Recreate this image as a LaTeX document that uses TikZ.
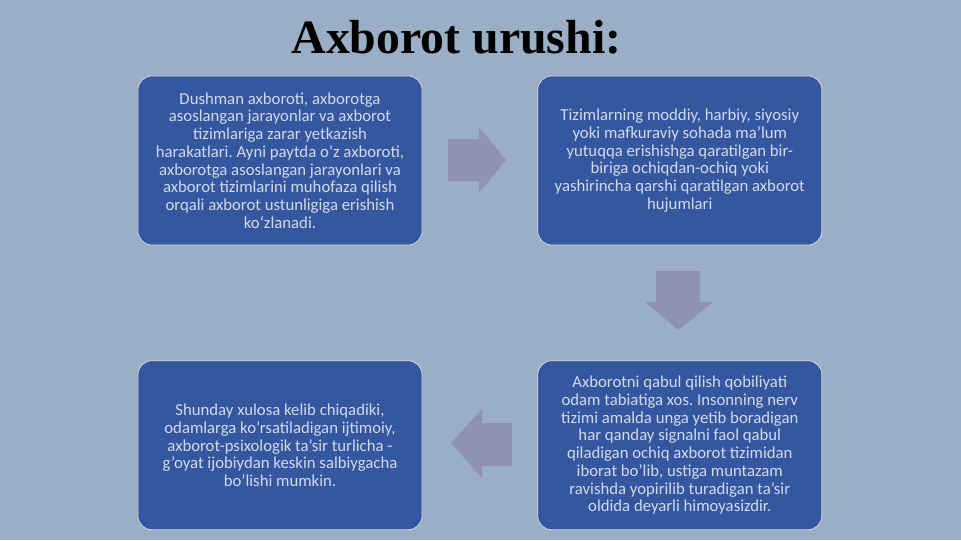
\documentclass[tikz,border=0pt]{standalone}
\usepackage{fontspec}
\setmainfont{Carlito}
\newfontfamily\titlefont{Liberation Serif}
\usepackage{xcolor}
\usepackage{tikz}
\usetikzlibrary{positioning}
\frenchspacing

\definecolor{slidebg}{HTML}{9AAEC5}
\definecolor{boxfill}{HTML}{3457A0}
\definecolor{boxtext}{HTML}{D2DAEA}
\definecolor{flowarrow}{HTML}{8E93B3}

\tikzset{
  infobox/.style={rectangle, rounded corners=0.35cm, fill=boxfill, draw=slidebg!40!white, line width=0.5pt,
    minimum width=7.1cm, minimum height=4.225cm, text=boxtext, align=center, inner sep=0pt,
    font=\fontsize{11.9}{12.6}\selectfont},
  flow/.style={fill=flowarrow}
}

\begin{document}
\begin{tikzpicture}[x=0.025cm, y=-0.025cm, node distance=2.875cm]
% Slide background
\fill[slidebg] (0,0) rectangle (961,540);

% Title
\node[anchor=base, font=\titlefont\bfseries\fontsize{34}{37}\selectfont] (title) at (456.5,53) {Axborot urushi:};

% Four text blocks
\node[infobox] (define) at (280,160.5) {Dushman axboroti, axborotga\\
asoslangan jarayonlar va axborot\\
tizimlariga zarar yetkazish\\
harakatlari. Ayni paytda o‘z axboroti,\\
axborotga asoslangan jarayonlari va\\
axborot tizimlarini muhofaza qilish\\
orqali axborot ustunligiga erishish\\
ko‘zlanadi.};
\node[infobox, right=of define] (attack) {Tizimlarning moddiy, harbiy, siyosiy\\
yoki mafkuraviy sohada ma'lum\\
yutuqqa erishishga qaratilgan bir-\\
biriga ochiqdan-ochiq yoki\\
yashirincha qarshi qaratilgan axborot\\
hujumlari};
\node[infobox, below=of attack] (nature) {Axborotni qabul qilish qobiliyati\\
odam tabiatiga xos. Insonning nerv\\
tizimi amalda unga yetib boradigan\\
har qanday signalni faol qabul\\
qiladigan ochiq axborot tizimidan\\
iborat bo'lib, ustiga muntazam\\
ravishda yopirilib turadigan ta’sir\\
oldida deyarli himoyasizdir.};
\node[infobox, left=of nature] (result) {Shunday xulosa kelib chiqadiki,\\
odamlarga ko'rsatiladigan ijtimoiy,\\
axborot-psixologik ta'sir turlicha -\\
g'oyat ijobiydan keskin salbiygacha\\
bo'lishi mumkin.};

% Block arrows between the blocks
\fill[flow] (448,139) -- (479,139) -- (479,127) -- (506,160) -- (479,193) -- (479,181) -- (448,181) -- cycle;
\fill[flow] (656,271) -- (700,271) -- (700,302) -- (713,302) -- (678.5,330) -- (645,302) -- (656,302) -- cycle;
\fill[flow] (512,423) -- (482,423) -- (482,409) -- (451,443) -- (482,478) -- (482,466) -- (512,466) -- cycle;

\end{tikzpicture}
\end{document}
